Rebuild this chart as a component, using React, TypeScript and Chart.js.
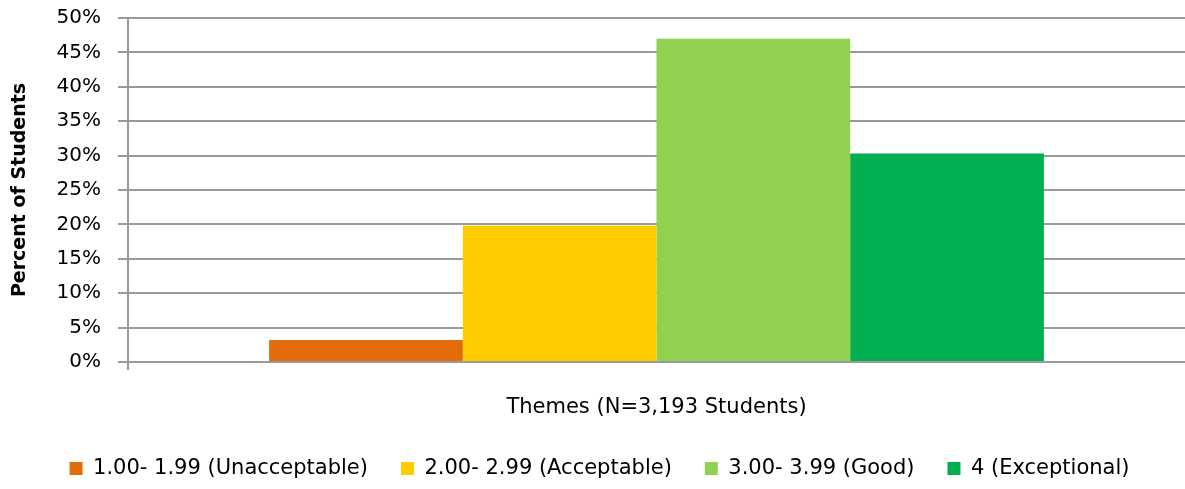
import React, { useEffect, useRef } from "react";
import { Chart, registerables } from "chart.js";

Chart.register(...registerables);

const categories: string[] = [""];
const seriesNames: string[] = [
  "1.00- 1.99 (Unacceptable)",
  "2.00- 2.99 (Acceptable)",
  "3.00- 3.99 (Good)",
  "4 (Exceptional)",
];
const seriesValues: number[] = [3.2, 19.8, 47.0, 30.3];
const seriesColors: string[] = ["#E36C0A", "#FFCC00", "#92D050", "#00B050"];
const yTicks: number[] = [0, 5, 10, 15, 20, 25, 30, 35, 40, 45, 50];
const xTitle = "Themes (N=3,193 Students)";
const yTitle = "Percent of Students";

const FONT = "'DejaVu Sans', 'Open Sans', sans-serif";
const GRID = "#9a9a9a";

const legendShift = {
  id: "legendShift",
  afterLayout(chart: any) {
    if (chart.legend) {
      chart.legend.left += 7;
      chart.legend.right += 7;
    }
  },
};

export default function App() {
  const ref = useRef<HTMLCanvasElement | null>(null);

  useEffect(() => {
    document.body.style.margin = "0";
    const canvas = ref.current;
    if (!canvas) return;
    const chart = new Chart(canvas, {
      type: "bar",
      data: {
        labels: categories,
        datasets: seriesNames.map((name, i) => ({
          label: name,
          data: [seriesValues[i]],
          backgroundColor: seriesColors[i],
          borderWidth: 0,
          barPercentage: 1,
          categoryPercentage: 0.733,
        })),
      },
      options: {
        responsive: false,
        animation: false,
        devicePixelRatio: 1,
        layout: { padding: { top: 18, right: 0, bottom: 0, left: 0 } },
        plugins: {
          tooltip: { enabled: false },
          legend: {
            position: "bottom",
            labels: {
              boxWidth: 13,
              boxHeight: 13,
              padding: 33,
              color: "#000",
              font: { family: FONT, size: 21 },
            },
          },
        },
        scales: {
          x: {
            grid: {
              display: true,
              offset: true,
              drawOnChartArea: false,
              drawTicks: true,
              tickLength: 8,
              color: (ctx: any) => (ctx.index === 0 ? GRID : "rgba(0,0,0,0)"),
              lineWidth: 2,
            },
            border: { display: true, color: GRID, width: 2 },
            ticks: { display: true, color: "#000", font: { family: FONT, size: 20 } },
            title: {
              display: true,
              text: xTitle,
              color: "#000",
              font: { family: FONT, size: 21 },
              padding: { top: 0, bottom: 5 },
            },
            afterFit: (scale: any) => {
              scale.height = 63;
              scale.paddingLeft = 0;
              scale.paddingRight = 0;
            },
          },
          y: {
            min: 0,
            max: 50,
            afterBuildTicks: (scale: any) => {
              scale.ticks = yTicks.map((v) => ({ value: v }));
            },
            grid: {
              color: GRID,
              lineWidth: 2,
              tickLength: 10,
            },
            border: { display: true, color: GRID, width: 2 },
            ticks: {
              color: "#000",
              padding: 17,
              font: { family: FONT, size: 20 },
              callback: (v: any) => `${v}%`,
            },
            title: {
              display: true,
              text: yTitle,
              color: "#000",
              font: { family: FONT, size: 19, weight: "bold" },
              padding: { top: 9, bottom: 0 },
            },
            afterFit: (scale: any) => {
              scale.width = 128;
              scale.paddingTop = 0;
              scale.paddingBottom = 0;
            },
          },
        },
      },
      plugins: [legendShift],
    });
    return () => chart.destroy();
  }, []);

  return (
    <div style={{ position: "absolute", left: 0, top: 0, width: 1185, height: 489 }}>
      <canvas ref={ref} width={1185} height={489} style={{ width: 1185, height: 489 }} />
    </div>
  );
}
